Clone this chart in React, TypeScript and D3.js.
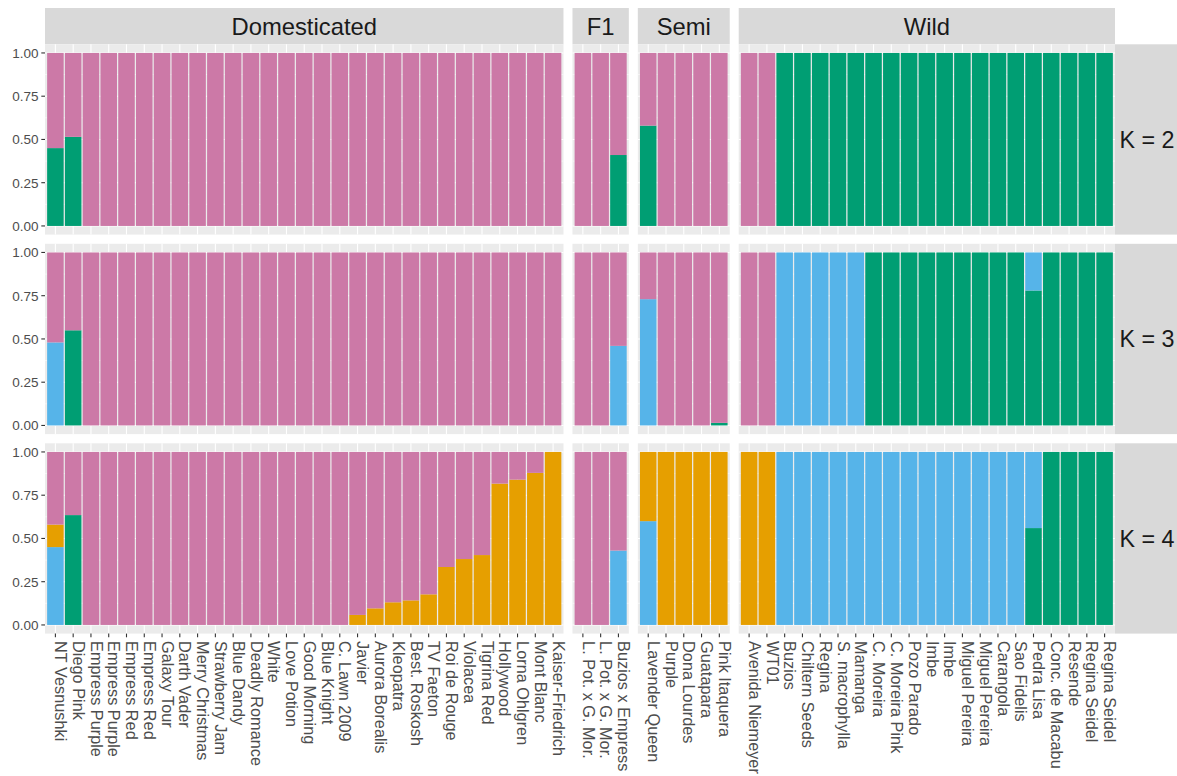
import { useEffect, useRef } from "react";
import * as d3 from "d3";

const GROUPS = ["Domesticated", "F1", "Semi", "Wild"];

const DOMESTICATED = [
  "NT Vesnushki", "Diego Pink", "Empress Purple", "Empress Purple", "Empress Red", "Empress Red",
  "Galaxy Tour", "Darth Vader", "Merry Christmas", "Strawberry Jam", "Blue Dandy", "Deadly Romance",
  "White", "Love Potion", "Good Morning", "Blue Knight", "C. Lawn 2009", "Javier", "Aurora Borealis",
  "Kleopatra", "Best. Roskosh", "TV Faeton", "Roi de Rouge", "Violacea", "Tigrina Red", "Hollywood",
  "Lorna Ohlgren", "Mont Blanc", "Kaiser-Friedrich",
];
const F1 = ["L. Pot. x G. Mor.", "L. Pot. x G. Mor.", "Buzios x Empress"];
const SEMI = ["Lavender Queen", "Purple", "Dona Lourdes", "Guatapara", "Pink Itaquera"];
const WILD = [
  "Avenida Niemeyer", "WT01", "Buzios", "Chiltern Seeds", "Regina", "S. macrophylla", "Mamanga",
  "C. Moreira", "C. Moreira Pink", "Pozo Parado", "Imbe", "Imbe", "Miguel Pereira", "Miguel Pereira",
  "Carangola", "Sao Fidelis", "Pedra Lisa", "Conc. de Macabu", "Resende", "Regina Seidel", "Regina Seidel",
];

const K_LABELS = ["K = 2", "K = 3", "K = 4"];
const Y_TICKS = [0, 0.25, 0.5, 0.75, 1];
const Y_MINOR = [0.125, 0.375, 0.625, 0.875];

// bottom -> top stacking order of the ancestry clusters
const CLUSTERS = ["green", "blue", "orange", "pink"];
const COLORS: Record<string, string> = {
  green: "#009E73",
  blue: "#56B4E9",
  orange: "#E69F00",
  pink: "#CC79A7",
};

// values listed Domesticated | F1 | Semi | Wild
const K2_GREEN = [
  0.45, 0.515, 0, 0, 0, 0, 0, 0, 0, 0, 0, 0, 0, 0, 0, 0, 0, 0, 0, 0, 0, 0, 0, 0, 0, 0, 0, 0, 0,
  0, 0, 0.41,
  0.58, 0, 0, 0, 0,
  0, 0, 1, 1, 1, 1, 1, 1, 1, 1, 1, 1, 1, 1, 1, 1, 1, 1, 1, 1, 1,
];
const K2_PINK = [
  0.55, 0.485, 1, 1, 1, 1, 1, 1, 1, 1, 1, 1, 1, 1, 1, 1, 1, 1, 1, 1, 1, 1, 1, 1, 1, 1, 1, 1, 1,
  1, 1, 0.59,
  0.42, 1, 1, 1, 1,
  1, 1, 0, 0, 0, 0, 0, 0, 0, 0, 0, 0, 0, 0, 0, 0, 0, 0, 0, 0, 0,
];

const K3_GREEN = [
  0, 0.55, 0, 0, 0, 0, 0, 0, 0, 0, 0, 0, 0, 0, 0, 0, 0, 0, 0, 0, 0, 0, 0, 0, 0, 0, 0, 0, 0,
  0, 0, 0,
  0, 0, 0, 0, 0.015,
  0, 0, 0, 0, 0, 0, 0, 1, 1, 1, 1, 1, 1, 1, 1, 1, 0.78, 1, 1, 1, 1,
];
const K3_BLUE = [
  0.48, 0, 0, 0, 0, 0, 0, 0, 0, 0, 0, 0, 0, 0, 0, 0, 0, 0, 0, 0, 0, 0, 0, 0, 0, 0, 0, 0, 0,
  0, 0, 0.46,
  0.73, 0, 0, 0, 0,
  0, 0, 1, 1, 1, 1, 1, 0, 0, 0, 0, 0, 0, 0, 0, 0, 0.22, 0, 0, 0, 0,
];
const K3_PINK = [
  0.52, 0.45, 1, 1, 1, 1, 1, 1, 1, 1, 1, 1, 1, 1, 1, 1, 1, 1, 1, 1, 1, 1, 1, 1, 1, 1, 1, 1, 1,
  1, 1, 0.54,
  0.27, 1, 1, 1, 0.985,
  1, 1, 0, 0, 0, 0, 0, 0, 0, 0, 0, 0, 0, 0, 0, 0, 0, 0, 0, 0, 0,
];

const K4_GREEN = [
  0, 0.635, 0, 0, 0, 0, 0, 0, 0, 0, 0, 0, 0, 0, 0, 0, 0, 0, 0, 0, 0, 0, 0, 0, 0, 0, 0, 0, 0,
  0, 0, 0,
  0, 0, 0, 0, 0,
  0, 0, 0, 0, 0, 0, 0, 0, 0, 0, 0, 0, 0, 0, 0, 0, 0.56, 1, 1, 1, 1,
];
const K4_BLUE = [
  0.45, 0, 0, 0, 0, 0, 0, 0, 0, 0, 0, 0, 0, 0, 0, 0, 0, 0, 0, 0, 0, 0, 0, 0, 0, 0, 0, 0, 0,
  0, 0, 0.43,
  0.6, 0, 0, 0, 0,
  0, 0, 1, 1, 1, 1, 1, 1, 1, 1, 1, 1, 1, 1, 1, 1, 0.44, 0, 0, 0, 0,
];
const K4_ORANGE = [
  0.13, 0, 0, 0, 0, 0, 0, 0, 0, 0, 0, 0, 0, 0, 0, 0, 0, 0.058, 0.096, 0.131, 0.142, 0.177, 0.335,
  0.381, 0.404, 0.817, 0.84, 0.879, 1,
  0, 0, 0,
  0.4, 1, 1, 1, 1,
  1, 1, 0, 0, 0, 0, 0, 0, 0, 0, 0, 0, 0, 0, 0, 0, 0, 0, 0, 0, 0,
];
const K4_PINK = [
  0.42, 0.365, 1, 1, 1, 1, 1, 1, 1, 1, 1, 1, 1, 1, 1, 1, 1, 0.942, 0.904, 0.869, 0.858, 0.823, 0.665,
  0.619, 0.596, 0.183, 0.16, 0.121, 0,
  1, 1, 0.57,
  0, 0, 0, 0, 0,
  0, 0, 0, 0, 0, 0, 0, 0, 0, 0, 0, 0, 0, 0, 0, 0, 0, 0, 0, 0, 0,
];

const K_SERIES: Record<string, number[]>[] = [
  { green: K2_GREEN, pink: K2_PINK },
  { green: K3_GREEN, blue: K3_BLUE, pink: K3_PINK },
  { green: K4_GREEN, blue: K4_BLUE, orange: K4_ORANGE, pink: K4_PINK },
];

export default function App() {
  const svgRef = useRef<SVGSVGElement | null>(null);

  useEffect(() => {
    if (!svgRef.current) return;
    document.body.style.margin = "0";

    const W = 1177, H = 776;
    const font = "'Liberation Sans', Arial, Helvetica, sans-serif";
    const svg = d3.select(svgRef.current);
    svg.selectAll("*").remove();
    svg.attr("width", W).attr("height", H).attr("font-family", font);
    svg.append("rect").attr("width", W).attr("height", H).attr("fill", "#ffffff");

    const panelLeft = 45, panelRight = 1115, gapX = 9;
    const stripTop = 8, stripH = 36.3;
    const rowTop0 = stripTop + stripH, rowStep = 199.5, panelH = 190.3;
    const padIn = 0.07, padOut = 0.12;

    const groupSamples = [DOMESTICATED, F1, SEMI, WILD];
    const units = groupSamples.map((s) => s.length - padIn + 2 * padOut);
    const step = (panelRight - panelLeft - gapX * (GROUPS.length - 1)) / d3.sum(units);

    let cursor = panelLeft;
    let offset = 0;
    const cols = GROUPS.map((name, i) => {
      const w = units[i] * step;
      const idx = groupSamples[i].map((_, j) => offset + j);
      const x = d3.scaleBand<number>().domain(idx).range([cursor, cursor + w])
        .paddingInner(padIn).paddingOuter(padOut);
      const col = { name, x0: cursor, x1: cursor + w, idx, labels: groupSamples[i], x };
      cursor += w + gapX;
      offset += groupSamples[i].length;
      return col;
    });

    // top strips
    cols.forEach((c) => {
      svg.append("rect").attr("x", c.x0).attr("y", stripTop).attr("width", c.x1 - c.x0)
        .attr("height", stripH).attr("fill", "#D9D9D9");
      svg.append("text").attr("x", (c.x0 + c.x1) / 2).attr("y", stripTop + stripH / 2)
        .attr("dy", "0.36em").attr("text-anchor", "middle").attr("font-size", 23.8)
        .attr("fill", "#1A1A1A").text(c.name);
    });

    K_SERIES.forEach((series, r) => {
      const top = rowTop0 + r * rowStep;
      const bottom = top + panelH;
      const y = d3.scaleLinear().domain([-0.05, 1.05]).range([bottom, top]);

      const rows = d3.range(offset).map((i) => {
        const o: Record<string, number> = { i };
        CLUSTERS.forEach((k) => { o[k] = series[k] ? series[k][i] : 0; });
        return o;
      });
      const stacked = d3.stack<Record<string, number>>().keys(CLUSTERS)(rows);

      cols.forEach((c, ci) => {
        const g = svg.append("g");
        g.append("rect").attr("x", c.x0).attr("y", top).attr("width", c.x1 - c.x0)
          .attr("height", panelH).attr("fill", "#EBEBEB");
        Y_MINOR.forEach((t) => {
          g.append("line").attr("x1", c.x0).attr("x2", c.x1).attr("y1", y(t)).attr("y2", y(t))
            .attr("stroke", "#ffffff").attr("stroke-width", 0.55);
        });
        Y_TICKS.forEach((t) => {
          g.append("line").attr("x1", c.x0).attr("x2", c.x1).attr("y1", y(t)).attr("y2", y(t))
            .attr("stroke", "#ffffff").attr("stroke-width", 1.1);
        });
        c.idx.forEach((i) => {
          const cx = (c.x(i) ?? 0) + c.x.bandwidth() / 2;
          g.append("line").attr("x1", cx).attr("x2", cx).attr("y1", top).attr("y2", bottom)
            .attr("stroke", "#ffffff").attr("stroke-width", 1.1);
        });

        stacked.forEach((layer) => {
          c.idx.forEach((i) => {
            const [a, b] = layer[i];
            if (b - a <= 0) return;
            g.append("rect").attr("x", c.x(i) ?? 0).attr("width", c.x.bandwidth())
              .attr("y", y(b)).attr("height", y(a) - y(b))
              .attr("fill", COLORS[layer.key]);
          });
        });

        // y axis
        if (ci === 0) {
          Y_TICKS.forEach((t) => {
            svg.append("line").attr("x1", c.x0 - 3.7).attr("x2", c.x0).attr("y1", y(t)).attr("y2", y(t))
              .attr("stroke", "#333333").attr("stroke-width", 1.1);
            svg.append("text").attr("x", c.x0 - 6.5).attr("y", y(t)).attr("dy", "0.36em")
              .attr("text-anchor", "end").attr("font-size", 13.5).attr("fill", "#4D4D4D")
              .text(d3.format(".2f")(t));
          });
        }

        // x axis on the bottom row
        if (r === K_SERIES.length - 1) {
          c.idx.forEach((i, j) => {
            const cx = (c.x(i) ?? 0) + c.x.bandwidth() / 2;
            svg.append("line").attr("x1", cx).attr("x2", cx).attr("y1", bottom).attr("y2", bottom + 3.7)
              .attr("stroke", "#333333").attr("stroke-width", 1.1);
            svg.append("text").attr("transform", `translate(${cx},${bottom + 7.5}) rotate(90)`)
              .attr("dy", "0.02em").attr("text-anchor", "start").attr("font-size", 16.3)
              .attr("fill", "#4D4D4D").text(c.labels[j]);
          });
        }
      });

      // right strip
      const sx = cols[cols.length - 1].x1;
      svg.append("rect").attr("x", sx).attr("y", top).attr("width", W - sx).attr("height", panelH)
        .attr("fill", "#D9D9D9");
      svg.append("text").attr("x", (sx + W) / 2 + 1).attr("y", (top + bottom) / 2).attr("dy", "0.36em")
        .attr("text-anchor", "middle").attr("font-size", 23.3).attr("fill", "#1A1A1A").text(K_LABELS[r]);
    });
  }, []);

  return <svg ref={svgRef} width={1177} height={776} style={{ display: "block" }} />;
}
